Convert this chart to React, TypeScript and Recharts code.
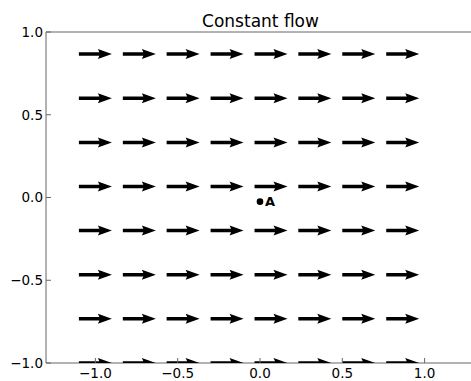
import { ScatterChart, Scatter, XAxis, YAxis } from 'recharts';

// grid positions of the quiver (arrow centres)
const gridX = [-1, -0.733, -0.467, -0.2, 0.067, 0.333, 0.6, 0.867];
const gridY = [-1, -0.733, -0.467, -0.2, 0.067, 0.333, 0.6, 0.867];
// constant flow vector (data units)
const flowU = 0.2;
const flowV = 0;

const xTicks = [-1, -0.5, 0, 0.5, 1];
const yTicks = [-1, -0.5, 0, 0.5, 1];

const pointA = [{ x: 0, y: -0.025, label: 'A' }];

const arrows = gridY.flatMap((y) => gridX.map((x) => ({ x, y, u: flowU, v: flowV })));

const W = 476;
const H = 381;
const M = { top: 31, right: 1, bottom: 0, left: 0 };
const YW = 46;
const XH = 18;
const xDomain: [number, number] = [-1.3, 1.3];
const pxPerUnit = (W - M.left - M.right - YW) / (xDomain[1] - xDomain[0]);
// plot rectangle, used to clip arrows like matplotlib does
const plot = { x: YW, y: M.top + 1, w: W - M.right - 1 - YW, h: H - XH - M.top - 1 };

const FONT = '"DejaVu Sans", sans-serif';
const SPINE = '#666';
const fmt = (v: number) => v.toFixed(1).replace('-', '\u2212');

const Arrow = (props: any) => {
  const { cx, cy, payload, index } = props;
  const L = Math.hypot(payload.u, payload.v) * pxPerUnit;
  const sw = 1.75;
  const hw = 5;
  const hl = 14;
  const hal = 12.5;
  const pts = [
    [-L / 2, -sw],
    [L / 2 - hal, -sw],
    [L / 2 - hl, -hw],
    [L / 2, 0],
    [L / 2 - hl, hw],
    [L / 2 - hal, sw],
    [-L / 2, sw],
  ]
    .map(([a, b]) => `${cx + a},${cy + b}`)
    .join(' ');
  const id = `qclip${index}`;
  return (
    <g>
      <clipPath id={id}>
        <rect x={plot.x} y={plot.y} width={plot.w} height={plot.h} />
      </clipPath>
      <polygon points={pts} fill="#000" clipPath={`url(#${id})`} />
    </g>
  );
};

const Dot = (props: any) => {
  const { cx, cy, payload } = props;
  return (
    <g>
      <circle cx={cx} cy={cy} r={3.3} fill="#000" />
      <text x={cx + 5} y={cy + 4.5} fontSize={13} fontWeight="bold" fontFamily={FONT} fill="#000">
        {payload.label}
      </text>
    </g>
  );
};

const BottomTick = ({ x, y, payload }: any) => (
  <g>
    <line x1={x} y1={y} x2={x} y2={y - 5} stroke={SPINE} />
    <text x={x} y={y + 15} textAnchor="middle" fontSize={13.5} fontFamily={FONT} fill="#000">
      {fmt(payload.value)}
    </text>
  </g>
);
const TopTick = ({ x, y }: any) => <line x1={x} y1={y} x2={x} y2={y + 5} stroke={SPINE} />;
const LeftTick = ({ x, y, payload }: any) => (
  <g>
    <line x1={x} y1={y} x2={x + 5} y2={y} stroke={SPINE} />
    <text x={x - 3} y={y} dy="0.36em" textAnchor="end" fontSize={13.5} fontFamily={FONT} fill="#000">
      {fmt(payload.value)}
    </text>
  </g>
);
const RightTick = ({ x, y }: any) => <line x1={x} y1={y} x2={x - 5} y2={y} stroke={SPINE} />;

export default function App() {
  return (
    <div style={{ position: 'fixed', left: 0, top: 0, width: 471, height: 381, overflow: 'hidden', background: '#fff' }}>
      <div
        style={{
          position: 'absolute',
          left: YW,
          width: W - YW - M.right,
          top: 13,
          textAlign: 'center',
          fontFamily: FONT,
          fontSize: 17,
          lineHeight: '17px',
          color: '#000',
        }}
      >
        Constant flow
      </div>
      <ScatterChart width={W} height={H} margin={M}>
        <XAxis
          xAxisId="b"
          type="number"
          dataKey="x"
          domain={xDomain}
          allowDataOverflow
          ticks={xTicks}
          interval={0}
          height={XH}
          tickSize={0}
          tickMargin={0}
          tickLine={false}
          axisLine={{ stroke: SPINE }}
          tick={<BottomTick />}
        />
        <XAxis
          xAxisId="t"
          orientation="top"
          type="number"
          dataKey="x"
          domain={xDomain}
          ticks={xTicks}
          interval={0}
          height={1}
          tickSize={0}
          tickMargin={0}
          tickLine={false}
          axisLine={{ stroke: SPINE }}
          tick={<TopTick />}
        />
        <YAxis
          yAxisId="l"
          type="number"
          dataKey="y"
          domain={[-1, 1]}
          allowDataOverflow
          ticks={yTicks}
          interval={0}
          width={YW}
          tickSize={0}
          tickMargin={0}
          tickLine={false}
          axisLine={{ stroke: SPINE }}
          tick={<LeftTick />}
        />
        <YAxis
          yAxisId="r"
          orientation="right"
          type="number"
          dataKey="y"
          domain={[-1, 1]}
          ticks={yTicks}
          interval={0}
          width={1}
          tickSize={0}
          tickMargin={0}
          tickLine={false}
          axisLine={{ stroke: SPINE }}
          tick={<RightTick />}
        />
        <Scatter xAxisId="b" yAxisId="l" data={arrows} shape={<Arrow />} isAnimationActive={false} />
        <Scatter xAxisId="b" yAxisId="l" data={pointA} shape={<Dot />} isAnimationActive={false} />
      </ScatterChart>
    </div>
  );
}
